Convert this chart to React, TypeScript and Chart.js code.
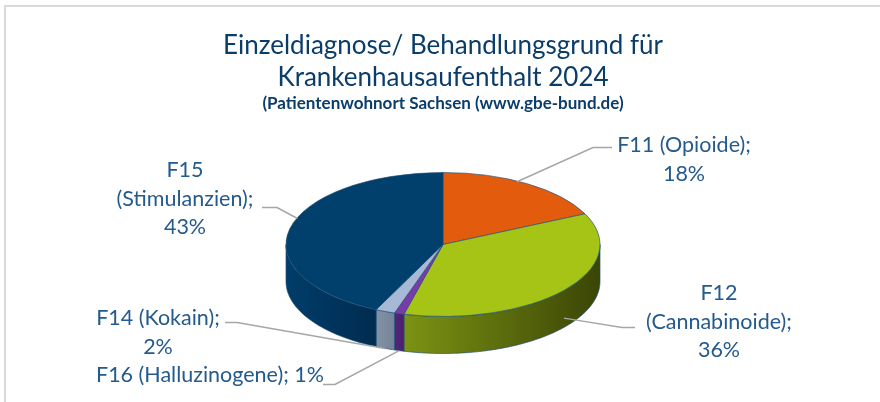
import React, { useEffect, useRef } from 'react';
import { Chart, registerables } from 'chart.js';

Chart.register(...registerables);

// ---- data ----
const codes = ['F11', 'F12', 'F16', 'F14', 'F15'];
const names = ['(Opioide)', '(Cannabinoide)', '(Halluzinogene)', '(Kokain)', '(Stimulanzien)'];
const shares = [18, 36, 1, 2, 43];
const titleLines = ['Einzeldiagnose/ Behandlungsgrund für', 'Krankenhausaufenthalt 2024'];
const subtitleText = '(Patientenwohnort Sachsen (www.gbe-bund.de)';

// ---- styles ----
const topColors = ['#E35B0C', '#A6C415', '#7A3BA8', '#A7B9D5', '#013F6D'];
const sideLight = ['#B54808', '#7C9313', '#55267C', '#8391A5', '#003D6A'];
const sideDark = ['#8A3506', '#3B4506', '#4A1F6A', '#76849A', '#002C50'];
const TITLE_COLOR = '#0B3D6B';
const LABEL_COLOR = '#245A8C';
const LEADER_COLOR = '#A6A6A6';
const FONT = 'Lato, "Open Sans", sans-serif';

const SQUASH = 72 / 157;
const DEPTH = 37;

// label layout: split mode, first-line centre offset from pie centre, leader start/elbow offsets, anchor on slice
const labelLayout = [
  { split: 1, dx: 241, dy: -99, sx: 169, sy: -97, ex: 150, f: 0.88, d: -0.25 },
  { split: 2, dx: 276, dy: 49, sx: 192, sy: 83, ex: 179, f: 1.0, d: 0.75 },
  { split: 0, dx: -233, dy: 131, sx: -120, sy: 140, ex: -108, f: 1.0, d: 1.0 },
  { split: 1, dx: -285, dy: 74, sx: -218, sy: 78, ex: -206, f: 1.0, d: 1.0 },
  { split: 2, dx: -258, dy: -74, sx: -181, sy: -37, ex: -166, f: 0.95, d: -0.3 },
];
const LABEL_LINE_H = 28.5;
const LABEL_SIZE = 21.5;

const pie3d = {
  id: 'pie3d',
  beforeDraw(chart: any) {
    const { ctx, width, height } = chart;
    ctx.save();
    ctx.fillStyle = '#ffffff';
    ctx.fillRect(0, 0, width, height);
    ctx.strokeStyle = '#D9D9D9';
    ctx.lineWidth = 2;
    ctx.beginPath();
    ctx.moveTo(5, height);
    ctx.lineTo(5, 6);
    ctx.lineTo(width, 6);
    ctx.stroke();
    ctx.restore();
  },
  beforeDatasetsDraw(chart: any) {
    const { ctx } = chart;
    const meta = chart.getDatasetMeta(0);
    ctx.save();
    meta.data.forEach((arc: any, i: number) => {
      const { x, y, startAngle, endAngle, outerRadius: r } = arc.getProps(
        ['x', 'y', 'startAngle', 'endAngle', 'outerRadius'],
        true
      );
      for (const base of [-2 * Math.PI, 0, 2 * Math.PI]) {
        const a = Math.max(startAngle, base);
        const b = Math.min(endAngle, base + Math.PI);
        if (b <= a) continue;
        const steps = Math.max(4, Math.ceil((b - a) * 60));
        const pts: [number, number][] = [];
        for (let s = 0; s <= steps; s++) {
          const t = a + ((b - a) * s) / steps;
          pts.push([x + r * Math.cos(t), y + SQUASH * r * Math.sin(t)]);
        }
        ctx.beginPath();
        pts.forEach(([px, py], j) => (j === 0 ? ctx.moveTo(px, py) : ctx.lineTo(px, py)));
        for (let j = pts.length - 1; j >= 0; j--) ctx.lineTo(pts[j][0], pts[j][1] + DEPTH);
        ctx.closePath();
        const xs = pts.map((p) => p[0]);
        const x0 = Math.min(...xs);
        const x1 = Math.max(...xs);
        const g = ctx.createLinearGradient(x0, 0, Math.max(x1, x0 + 1), 0);
        g.addColorStop(0, sideLight[i]);
        g.addColorStop(1, sideDark[i]);
        ctx.fillStyle = g;
        ctx.fill();
        ctx.strokeStyle = 'rgba(31,78,121,0.85)';
        ctx.lineWidth = 0.8;
        ctx.stroke();
      }
    });
    const c = meta.data[0];
    ctx.translate(c.x, c.y);
    ctx.scale(1, SQUASH);
    ctx.translate(-c.x, -c.y);
  },
  afterDatasetsDraw(chart: any) {
    chart.ctx.restore();
  },
  afterDraw(chart: any) {
    const { ctx } = chart;
    const meta = chart.getDatasetMeta(0);
    const total = shares.reduce((s, v) => s + v, 0);
    ctx.save();
    meta.data.forEach((arc: any, i: number) => {
      const L = labelLayout[i];
      const { x, y, startAngle, endAngle, outerRadius: r } = arc.getProps(
        ['x', 'y', 'startAngle', 'endAngle', 'outerRadius'],
        true
      );
      const mid = (startAngle + endAngle) / 2;
      const ax = x + L.f * r * Math.cos(mid);
      const ay = y + SQUASH * L.f * r * Math.sin(mid) + L.d * DEPTH;
      // leader line
      ctx.strokeStyle = LEADER_COLOR;
      ctx.lineWidth = 1.5;
      ctx.beginPath();
      ctx.moveTo(x + L.sx, y + L.sy);
      ctx.lineTo(x + L.ex, y + L.sy);
      ctx.lineTo(ax, ay);
      ctx.stroke();
      // text
      const pct = Math.round((shares[i] / total) * 100) + '%';
      let lines: string[];
      if (L.split === 0) lines = [codes[i] + ' ' + names[i] + '; ' + pct];
      else if (L.split === 1) lines = [codes[i] + ' ' + names[i] + ';', pct];
      else lines = [codes[i], names[i] + ';', pct];
      ctx.fillStyle = LABEL_COLOR;
      ctx.font = LABEL_SIZE + 'px ' + FONT;
      ctx.textAlign = 'center';
      ctx.textBaseline = 'middle';
      lines.forEach((ln, j) => ctx.fillText(ln, x + L.dx, y + L.dy + j * LABEL_LINE_H));
    });
    ctx.restore();
  },
};

export default function App() {
  const ref = useRef<HTMLCanvasElement | null>(null);
  useEffect(() => {
    document.body.style.margin = '0';
    const canvas = ref.current;
    if (!canvas) return;
    Chart.defaults.font.family = FONT;
    const chart = new Chart(canvas, {
      type: 'pie',
      data: {
        labels: codes.map((c, i) => c + ' ' + names[i]),
        datasets: [
          {
            data: shares,
            backgroundColor: topColors,
            borderColor: 'rgba(31,78,121,0.9)',
            borderWidth: 1,
            radius: 157,
            clip: false,
          } as any,
        ],
      },
      options: {
        responsive: false,
        maintainAspectRatio: false,
        animation: false,
        events: [],
        layout: { padding: { top: 0, left: 100, right: 94, bottom: 26 } },
        plugins: {
          legend: { display: false },
          tooltip: { enabled: false },
          title: {
            display: true,
            text: titleLines,
            color: TITLE_COLOR,
            font: { family: FONT, size: 26, weight: 'normal', lineHeight: 1.23 },
            padding: { top: 30, bottom: 0 },
          },
          subtitle: {
            display: true,
            text: subtitleText,
            color: TITLE_COLOR,
            font: { family: FONT, size: 17, weight: 'bold', lineHeight: 1.06 },
            padding: { top: 1, bottom: 0 },
          },
        },
      } as any,
      plugins: [pie3d],
    });
    return () => chart.destroy();
  }, []);
  return (
    <div style={{ width: 880, height: 402 }}>
      <canvas ref={ref} width={880} height={402} style={{ display: 'block' }} />
    </div>
  );
}
